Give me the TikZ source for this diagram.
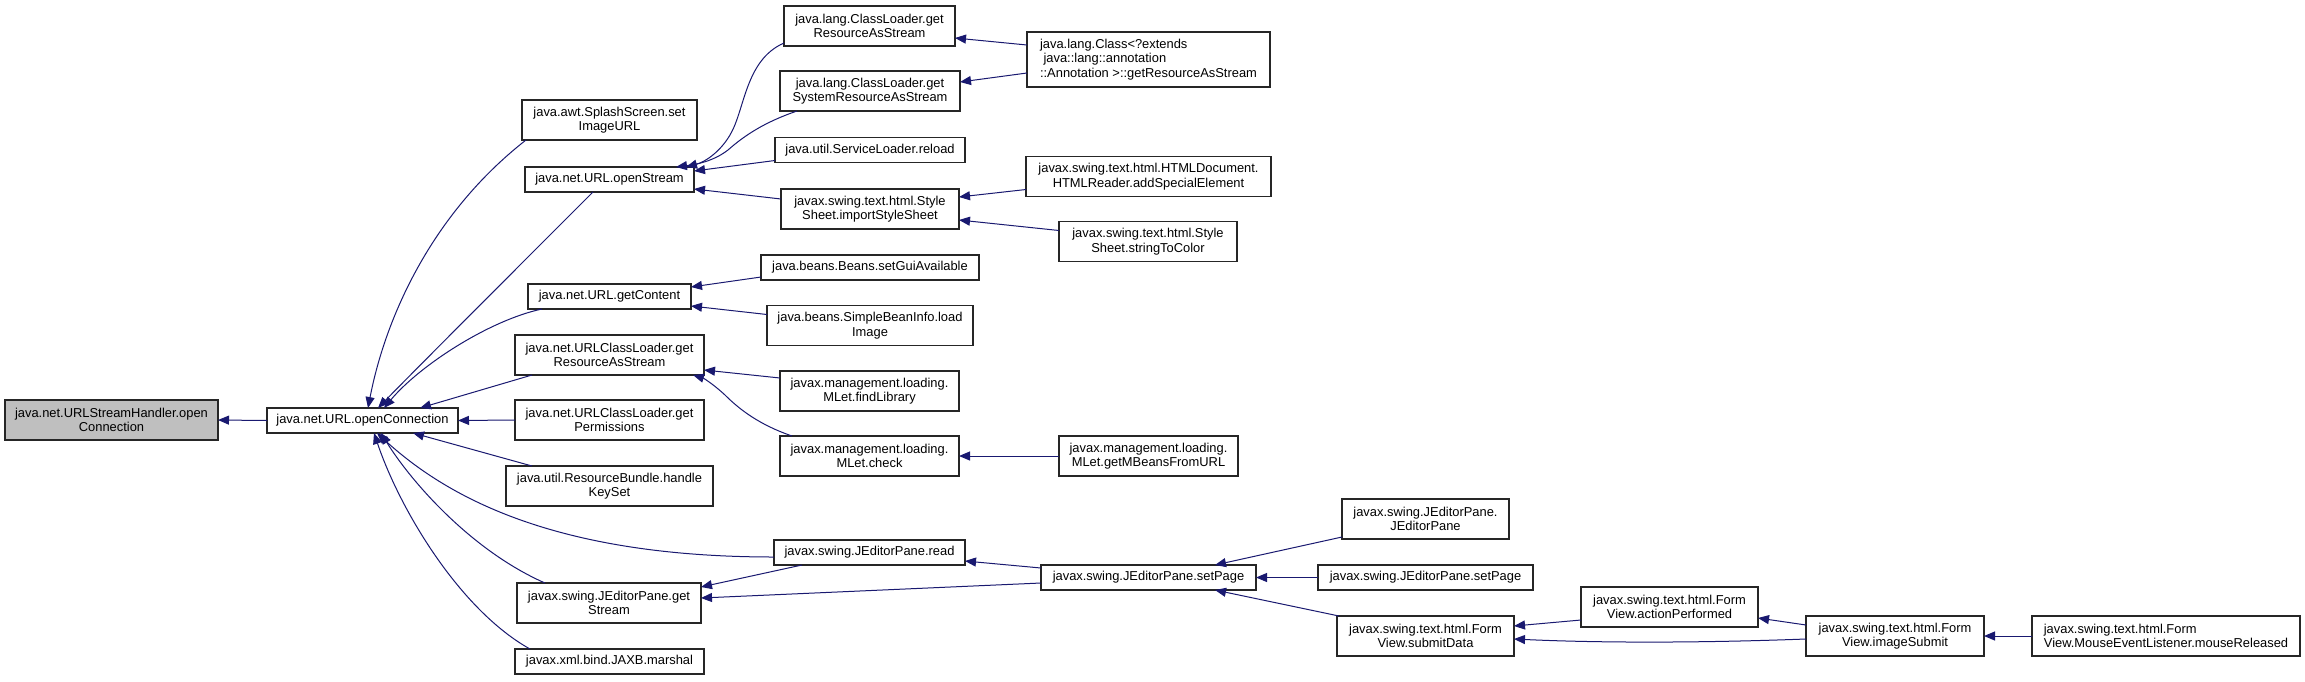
\documentclass[tikz,border=0pt]{standalone}
\usepackage{fontspec}
\setmainfont{Liberation Sans}
\usetikzlibrary{arrows.meta,calc}
\definecolor{edgeblue}{HTML}{191970}
\definecolor{rootgray}{HTML}{BFBFBF}
\begin{document}
\begin{tikzpicture}[x=1pt,y=-1pt,
  box/.style={draw=black!85,line width=1.1pt,fill=white,inner sep=0pt,outer sep=0pt,align=center,
    font=\fontsize{12.9}{14.6}\selectfont},
  rootbox/.style={box,fill=rootgray},
  edge/.style={draw=edgeblue,line width=1pt,-{Triangle[length=11pt,width=9pt]}}]
\fill[white] (0,0) rectangle (2305,681);
\useasboundingbox (0,0) rectangle (2305,681);
% column 1
\node[rootbox,minimum width=213pt,minimum height=40pt] (root) at (111.5,420) {java.net.URLStreamHandler.open\\Connection};
% column 2
\node[box,minimum width=191pt,minimum height=25pt] (oc) at (362.5,420.5) {java.net.URL.openConnection};
% column 3
\node[box,minimum width=175pt,minimum height=40pt] (splash) at (609.5,120) {java.awt.SplashScreen.set\\ImageURL};
\node[box,minimum width=169pt,minimum height=25pt] (ostream) at (609.5,179.5) {java.net.URL.openStream};
\node[box,minimum width=163pt,minimum height=25pt] (gcontent) at (609.5,296.5) {java.net.URL.getContent};
\node[box,minimum width=189pt,minimum height=40pt] (uclres) at (609.5,355) {java.net.URLClassLoader.get\\ResourceAsStream};
\node[box,minimum width=189pt,minimum height=40pt] (uclperm) at (609.5,420) {java.net.URLClassLoader.get\\Permissions};
\node[box,minimum width=207pt,minimum height=40pt] (rbkeys) at (609.5,486) {java.util.ResourceBundle.handle\\KeySet};
\node[box,minimum width=184pt,minimum height=40pt] (gstream) at (609,603) {javax.swing.JEditorPane.get\\Stream};
\node[box,minimum width=189pt,minimum height=25pt] (jaxb) at (609.5,661.5) {javax.xml.bind.JAXB.marshal};
% column 4
\node[box,minimum width=171pt,minimum height=40pt] (clres) at (869.5,26) {java.lang.ClassLoader.get\\ResourceAsStream};
\node[box,minimum width=180pt,minimum height=40pt] (clsys) at (870,91) {java.lang.ClassLoader.get\\SystemResourceAsStream};
\node[box,minimum width=190pt,minimum height=25pt] (slreload) at (870,150) {java.util.ServiceLoader.reload};
\node[box,minimum width=178pt,minimum height=40pt] (iss) at (870,209) {javax.swing.text.html.Style\\Sheet.importStyleSheet};
\node[box,minimum width=218pt,minimum height=25pt] (beans) at (870,267.5) {java.beans.Beans.setGuiAvailable};
\node[box,minimum width=206pt,minimum height=40pt] (sbi) at (870,325.5) {java.beans.SimpleBeanInfo.load\\Image};
\node[box,minimum width=179pt,minimum height=40pt] (mfind) at (869.5,391) {javax.management.loading.\\MLet.findLibrary};
\node[box,minimum width=179pt,minimum height=40pt] (mcheck) at (869.5,456) {javax.management.loading.\\MLet.check};
\node[box,minimum width=191pt,minimum height=25pt] (jread) at (869.5,552.5) {javax.swing.JEditorPane.read};
% column 5
\node[box,align=left,minimum width=243pt,minimum height=55pt] (cls) at (1148.5,59.5) {java.lang.Class<?extends\\\hspace*{3.5pt}java::lang::annotation\\::Annotation >::getResourceAsStream};
\node[box,minimum width=245pt,minimum height=40pt] (hse) at (1148.5,176.5) {javax.swing.text.html.HTMLDocument.\\HTMLReader.addSpecialElement};
\node[box,minimum width=178pt,minimum height=40pt] (stc) at (1148,241.5) {javax.swing.text.html.Style\\Sheet.stringToColor};
\node[box,minimum width=179pt,minimum height=40pt] (mbeans) at (1148.5,456) {javax.management.loading.\\MLet.getMBeansFromURL};
\node[box,minimum width=215pt,minimum height=25pt] (setpage) at (1148.5,577.5) {javax.swing.JEditorPane.setPage};
% column 6
\node[box,minimum width=167pt,minimum height=40pt] (jep) at (1425.5,519) {javax.swing.JEditorPane.\\JEditorPane};
\node[box,minimum width=215pt,minimum height=25pt] (setpage2) at (1425.5,577.5) {javax.swing.JEditorPane.setPage};
\node[box,minimum width=177pt,minimum height=40pt] (submit) at (1425.5,636) {javax.swing.text.html.Form\\View.submitData};
% column 7-9
\node[box,minimum width=177pt,minimum height=40pt] (action) at (1669.5,607) {javax.swing.text.html.Form\\View.actionPerformed};
\node[box,minimum width=178pt,minimum height=40pt] (imgsub) at (1895,636) {javax.swing.text.html.Form\\View.imageSubmit};
\node[box,align=left,minimum width=268pt,minimum height=40pt] (mouse) at (2166,636) {javax.swing.text.html.Form\\View.MouseEventListener.mouseReleased};
% edges
\draw[edge] (oc.west) -- (root.east);
\draw[edge] ($(splash.south west)+(4,0)$) .. controls (430,215) and (385,320) .. ($(oc.north west)+(101,0)$);
\draw[edge] ($(ostream.south west)+(68,0)$) .. controls (520,265) and (420,365) .. ($(oc.north west)+(111,0)$);
\draw[edge] ($(gcontent.south west)+(14,0)$) .. controls (490,320) and (420,365) .. ($(oc.north west)+(117,0)$);
\draw[edge] ($(uclres.south west)+(17,0)$) -- ($(oc.north west)+(153,0)$);
\draw[edge] (uclperm.west) -- (oc.east);
\draw[edge] ($(rbkeys.north west)+(26,0)$) -- ($(oc.south west)+(146,0)$);
\draw[edge] ($(jread.south west)+(0,-8)$) .. controls (560,557) and (450,500) .. ($(oc.south west)+(110,0)$);
\draw[edge] ($(gstream.north west)+(28,0)$) .. controls (470,550) and (410,480) .. ($(oc.south west)+(114,0)$);
\draw[edge] ($(jaxb.north west)+(15,0)$) .. controls (460,610) and (400,510) .. ($(oc.south west)+(107,0)$);
\draw[edge] ($(clres.south west)+(0,-3)$) .. controls (745,60) and (745,110) .. (730,135) .. controls (720,152) and (705,162) .. ($(ostream.north west)+(161,0)$);
\draw[edge] ($(clsys.south west)+(17,0)$) .. controls (765,122) and (745,135) .. (728,150) .. controls (715,160) and (700,164) .. ($(ostream.north west)+(151,0)$);
\draw[edge] ($(slreload.south west)+(0,-2)$) -- ($(ostream.north east)+(0,4)$);
\draw[edge] ($(iss.north west)+(0,10)$) -- ($(ostream.south east)+(0,-3)$);
\draw[edge] ($(cls.north west)+(0,13)$) -- ($(clres.east)+(0,12)$);
\draw[edge] ($(cls.south west)+(0,-14)$) -- ($(clsys.east)+(0,-9)$);
\draw[edge] ($(hse.south west)+(0,-7)$) -- ($(iss.east)+(0,-12)$);
\draw[edge] ($(stc.north west)+(0,9)$) -- ($(iss.east)+(0,11)$);
\draw[edge] ($(beans.south west)+(0,-3)$) -- ($(gcontent.north east)+(0,3)$);
\draw[edge] ($(sbi.north west)+(0,9)$) -- ($(gcontent.south east)+(0,-3)$);
\draw[edge] ($(mfind.north west)+(0,7)$) -- ($(uclres.east)+(0,15)$);
\draw[edge] ($(mcheck.north west)+(12,0)$) .. controls (760,425) and (740,410) .. (725,395) .. controls (712,383) and (703,378) .. ($(uclres.south east)+(-11,0)$);
\draw[edge] (mbeans.west) -- (mcheck.east);
\draw[edge] ($(setpage.north west)+(0,3)$) -- ($(jread.east)+(0,8.5)$);
\draw[edge] ($(jread.south west)+(28,0)$) -- ($(gstream.north east)+(0,4)$);
\draw[edge] ($(setpage.south west)+(0,-7)$) -- ($(gstream.east)+(0,-5)$);
\draw[edge] ($(jep.south west)+(0,-2)$) -- ($(setpage.north east)+(-41,0)$);
\draw[edge] (setpage2.west) -- (setpage.east);
\draw[edge] ($(submit.north west)+(2,0)$) -- ($(setpage.south east)+(-41,0)$);
\draw[edge] ($(action.south west)+(0,-7)$) -- ($(submit.east)+(0,-10)$);
\draw[edge] ($(imgsub.west)+(0,3)$) .. controls (1700,643) and (1600,643) .. ($(submit.east)+(0,3)$);
\draw[edge] ($(imgsub.north west)+(0,9)$) -- ($(action.south east)+(0,-9)$);
\draw[edge] (mouse.west) -- (imgsub.east);
\end{tikzpicture}
\end{document}
